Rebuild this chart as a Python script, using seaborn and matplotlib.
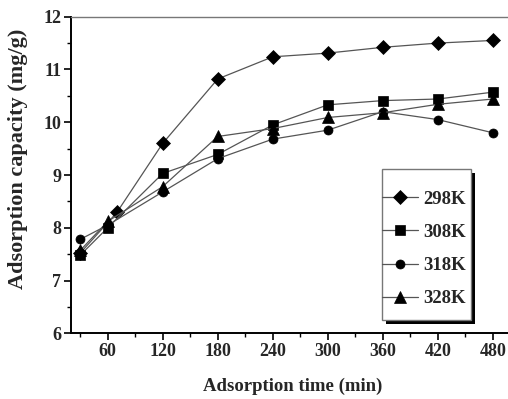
import matplotlib
matplotlib.use("Agg")
import matplotlib.pyplot as plt
from matplotlib.patches import Rectangle
from matplotlib.ticker import MultipleLocator
import seaborn as sns
import pandas as pd

# Adsorption capacity (mg/g) against contact time (min) at four temperatures
time_298 = [30, 70, 120, 180, 240, 300, 360, 420, 480]
q_298 = [7.52, 8.29, 9.60, 10.82, 11.24, 11.31, 11.42, 11.50, 11.55]

time_other = [30, 60, 120, 180, 240, 300, 360, 420, 480]
q_308 = [7.48, 8.00, 9.03, 9.39, 9.95, 10.33, 10.41, 10.44, 10.57]
q_318 = [7.78, 8.05, 8.68, 9.31, 9.68, 9.85, 10.20, 10.05, 9.80]
q_328 = [7.57, 8.12, 8.78, 9.73, 9.88, 10.09, 10.18, 10.34, 10.44]

labels = ["298K", "308K", "318K", "328K"]
series = [(time_298, q_298), (time_other, q_308), (time_other, q_318), (time_other, q_328)]
markers = ["D", "s", "o", "^"]
msizes = [7.5, 6.5, 6.5, 8]

sns.set_style("ticks")
plt.rcParams["font.family"] = ["Liberation Serif", "DejaVu Serif"]
plt.rcParams["font.weight"] = "bold"

W, H = 508, 399
fig = plt.figure(figsize=(W / 100, H / 100), dpi=100)
ax = fig.add_axes([71 / W, 1 - 333.3 / H, 437 / W, 316.6 / H])

for (t, q), lab, mk, ms in zip(series, labels, markers, msizes):
    df = pd.DataFrame({"time": t, "q": q})
    sns.lineplot(data=df, x="time", y="q", ax=ax, label=lab, color="#555555",
                 linewidth=0.9, marker=mk, markersize=ms,
                 markerfacecolor="black", markeredgecolor="black",
                 markeredgewidth=0.5)

ax.set_xlim(20, 496.5)
ax.set_ylim(6, 12)
ax.xaxis.set_major_locator(MultipleLocator(60))
ax.xaxis.set_minor_locator(MultipleLocator(30))
ax.yaxis.set_major_locator(MultipleLocator(1))
ax.yaxis.set_minor_locator(MultipleLocator(0.5))

ax.tick_params(axis="both", which="major", direction="out", length=5, width=1.2,
               color="black", labelsize=13, pad=2)
ax.tick_params(axis="both", which="minor", direction="out", length=3, width=1.0,
               color="black")
for lbl in ax.get_xticklabels() + ax.get_yticklabels():
    lbl.set_fontweight("bold")

ax.spines["left"].set_linewidth(1.4)
ax.spines["left"].set_color("black")
ax.spines["bottom"].set_linewidth(1.4)
ax.spines["bottom"].set_color("black")
ax.spines["top"].set_visible(True)
ax.spines["top"].set_color("#777777")
ax.spines["top"].set_linewidth(1.0)
ax.spines["right"].set_visible(False)

ax.set_xlabel("Adsorption time (min)", fontsize=13.5, fontweight="bold")
ax.set_ylabel("Adsorption capacity (mg/g)", fontsize=16, fontweight="bold")
ax.xaxis.set_label_coords(0.507, -0.141)
ax.yaxis.set_label_coords(-0.098, 0.55)

# legend box with a hard black drop shadow
bx0, by0, bw, bh = 382, 169, 89, 151
ax.add_patch(Rectangle(((bx0 + 4) / W, 1 - (by0 + bh + 4) / H), bw / W, bh / H,
                       transform=fig.transFigure, facecolor="black",
                       edgecolor="none", zorder=4, clip_on=False))
ax.add_patch(Rectangle((bx0 / W, 1 - (by0 + bh) / H), bw / W, bh / H,
                       transform=fig.transFigure, facecolor="white",
                       edgecolor="#777777", linewidth=1.0, zorder=4.5,
                       clip_on=False))

leg = ax.legend(loc="center left", bbox_to_anchor=(bx0 / W, 1 - 249 / H),
                bbox_transform=fig.transFigure, frameon=False,
                prop={"family": "Liberation Serif", "weight": "bold", "size": 13.5},
                handlelength=1.9, handletextpad=0.28, labelspacing=0.85,
                borderpad=0, borderaxespad=0)
leg.set_zorder(5)

fig.savefig("out.png", dpi=100)
